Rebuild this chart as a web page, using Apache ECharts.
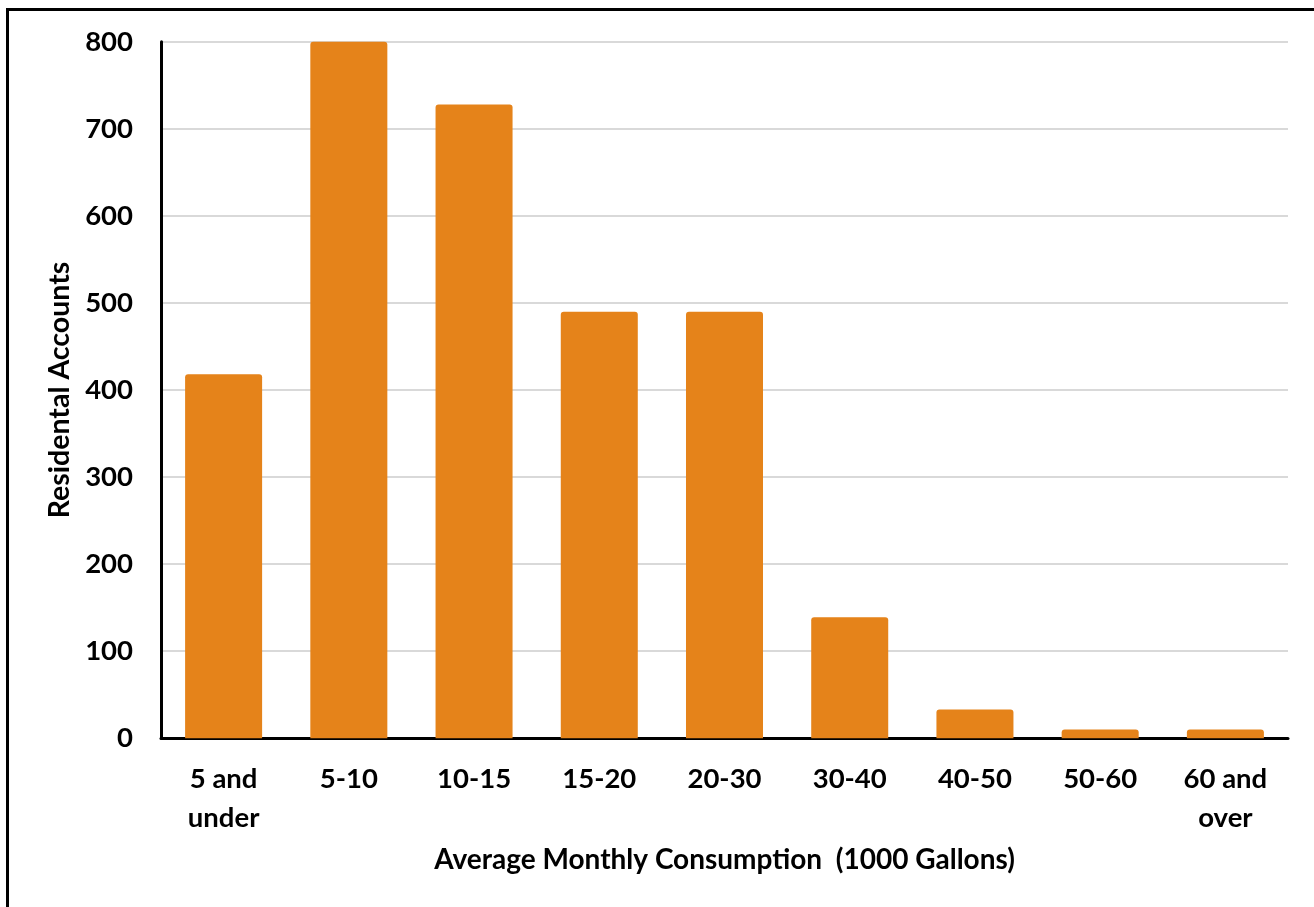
<!DOCTYPE html>
<html>
<head>
<meta charset="utf-8">
<script src="https://cdn.jsdelivr.net/npm/echarts@6/dist/echarts.min.js"></script>
<style>
html,body{margin:0;padding:0;background:#fff;overflow:hidden;}
#frame{position:absolute;left:6px;top:8px;width:2000px;height:2000px;border-top:3px solid #000;border-left:3px solid #000;}
#chart{position:absolute;left:0;top:0;width:1314px;height:907px;}
</style>
</head>
<body>
<div id="frame"></div>
<div id="chart"></div>
<script>
const categories = ['5 and\nunder', '5-10', '10-15', '15-20', '20-30', '30-40', '40-50', '50-60', '60 and\nover'];
const accounts = [418, 800, 728, 490, 490, 139, 33, 10, 10];
const xTitle = 'Average Monthly Consumption  (1000 Gallons)';
const yTitle = 'Residental Accounts';

const FONT = 'Lato';
const chart = echarts.init(document.getElementById('chart'), null, {renderer: 'canvas'});
chart.setOption({
  animation: false,
  backgroundColor: 'transparent',
  grid: {left: 161, right: 26, top: 41.7, bottom: 168.7, containLabel: false},
  xAxis: {
    type: 'category',
    data: categories,
    name: xTitle,
    nameLocation: 'middle',
    nameGap: 108,
    nameTextStyle: {fontFamily: FONT, fontWeight: 'bold', fontSize: 28, color: '#000'},
    axisLine: {show: true, lineStyle: {color: '#000', width: 3}},
    axisTick: {show: false},
    axisLabel: {fontFamily: FONT, fontWeight: 'bold', fontSize: 27.5, color: '#000', margin: 21, lineHeight: 39, interval: 0}
  },
  yAxis: {
    type: 'value',
    min: 0, max: 800, interval: 100,
    name: yTitle,
    nameLocation: 'middle',
    nameRotate: 90,
    nameGap: 86,
    nameTextStyle: {fontFamily: FONT, fontWeight: 'bold', fontSize: 28.5, color: '#000'},
    axisLine: {show: true, lineStyle: {color: '#000', width: 3}},
    axisTick: {show: false},
    axisLabel: {fontFamily: FONT, fontWeight: 'bold', fontSize: 27.5, color: '#000', margin: 28},
    splitLine: {show: true, lineStyle: {color: '#D9D9D9', width: 2}}
  },
  series: [{
    type: 'bar',
    data: accounts,
    barWidth: '61.5%',
    itemStyle: {color: '#E5831A', borderRadius: [3, 3, 0, 0]}
  }]
});
</script>
</body>
</html>
